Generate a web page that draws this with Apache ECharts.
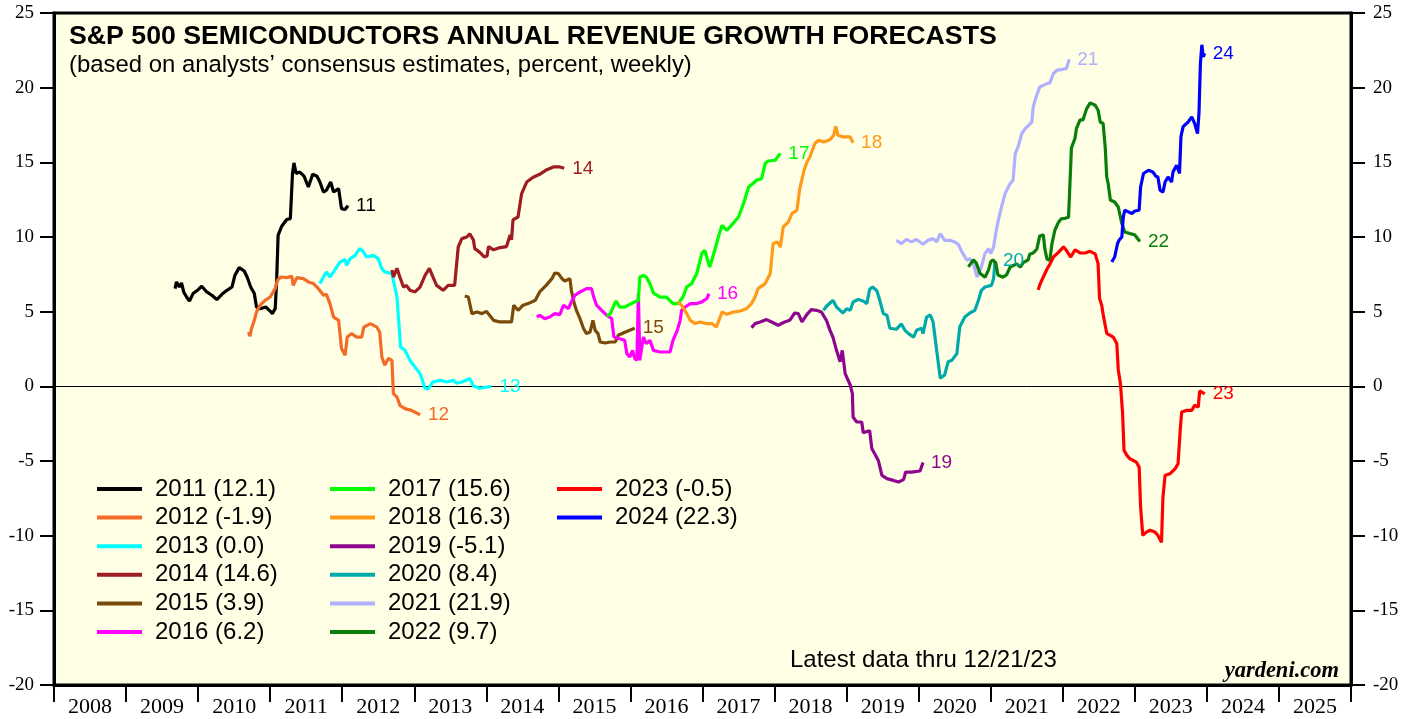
<!DOCTYPE html>
<html lang="en">
<head>
    <meta charset="UTF-8">
    <title>S&P 500 Semiconductors Annual Revenue Growth Forecasts</title>
    <style>
        html, body { margin: 0; padding: 0; background: #fff; }
    </style>
</head>

<script src="https://cdn.jsdelivr.net/npm/echarts@6/dist/echarts.min.js"></script>

<body>
<div id="main" style="height: 719px;width: 1416px"></div>
<script type="text/javascript">
    // year labels under the axis (one per year, between the ticks)
    var years = ['2008', '2009', '2010', '2011', '2012', '2013', '2014', '2015', '2016',
        '2017', '2018', '2019', '2020', '2021', '2022', '2023', '2024', '2025']

    var names = ['2011 (12.1)', '2012 (-1.9)', '2013 (0.0)', '2014 (14.6)', '2015 (3.9)', '2016 (6.2)',
        '2017 (15.6)', '2018 (16.3)', '2019 (-5.1)', '2020 (8.4)', '2021 (21.9)', '2022 (9.7)',
        '2023 (-0.5)', '2024 (22.3)']
    var tags = ['11', '12', '13', '14', '15', '16', '17', '18', '19', '20', '21', '22', '23', '24']

    // weekly forecasts, [year, percent]
    var s2011 = [[2009.68, 6.54], [2009.70, 6.99], [2009.74, 6.65], [2009.77, 6.92], [2009.80, 6.32], [2009.84, 5.98], [2009.88, 5.71], [2009.93, 6.21], [2009.99, 6.43], [2010.05, 6.70], [2010.12, 6.32], [2010.19, 6.10], [2010.26, 5.81], [2010.33, 6.16], [2010.40, 6.43], [2010.47, 6.65], [2010.51, 7.43], [2010.57, 7.95], [2010.64, 7.72], [2010.68, 7.32], [2010.73, 6.65], [2010.78, 6.21], [2010.81, 5.31], [2010.86, 5.20], [2010.94, 5.31], [2011.00, 5.04], [2011.03, 4.87], [2011.07, 5.20], [2011.09, 7.10], [2011.11, 10.11], [2011.16, 10.72], [2011.23, 11.17], [2011.28, 11.23], [2011.31, 14.25], [2011.33, 14.96], [2011.36, 14.25], [2011.41, 14.35], [2011.47, 14.07], [2011.53, 13.35], [2011.59, 14.20], [2011.65, 14.07], [2011.69, 13.68], [2011.74, 13.01], [2011.78, 13.13], [2011.84, 13.68], [2011.88, 13.01], [2011.95, 13.24], [2011.99, 11.90], [2012.04, 11.84], [2012.08, 12.1]]
    var s2012 = [[2010.70, 3.64], [2010.72, 3.35], [2010.74, 3.86], [2010.78, 4.42], [2010.81, 4.98], [2010.86, 5.43], [2010.93, 5.76], [2011.00, 5.98], [2011.07, 6.54], [2011.10, 7.10], [2011.15, 7.32], [2011.23, 7.28], [2011.30, 7.37], [2011.32, 6.76], [2011.37, 7.28], [2011.46, 7.21], [2011.53, 6.99], [2011.60, 6.88], [2011.67, 6.54], [2011.74, 6.10], [2011.78, 6.16], [2011.83, 5.54], [2011.88, 4.64], [2011.95, 4.42], [2011.99, 2.53], [2012.04, 2.08], [2012.07, 3.30], [2012.13, 3.53], [2012.20, 3.30], [2012.27, 3.30], [2012.30, 3.97], [2012.39, 4.20], [2012.48, 3.97], [2012.52, 3.64], [2012.55, 1.96], [2012.59, 1.41], [2012.64, 1.86], [2012.69, 1.74], [2012.71, -0.49], [2012.76, -0.72], [2012.80, -1.27], [2012.87, -1.49], [2012.96, -1.61], [2013.08, -1.9]]
    var s2013 = [[2011.69, 6.88], [2011.74, 7.32], [2011.78, 7.66], [2011.83, 7.32], [2011.88, 7.66], [2011.97, 8.33], [2012.04, 8.49], [2012.06, 8.10], [2012.11, 8.55], [2012.18, 8.77], [2012.24, 9.22], [2012.28, 9.11], [2012.34, 8.66], [2012.43, 8.77], [2012.50, 8.55], [2012.55, 7.88], [2012.59, 7.66], [2012.69, 7.55], [2012.73, 6.65], [2012.76, 5.98], [2012.81, 2.63], [2012.87, 2.41], [2012.94, 1.74], [2013.01, 1.29], [2013.08, 0.85], [2013.15, -0.13], [2013.19, -0.19], [2013.26, 0.29], [2013.36, 0.40], [2013.45, 0.29], [2013.54, 0.40], [2013.59, 0.21], [2013.66, 0.29], [2013.77, 0.52], [2013.82, 0.03], [2013.91, -0.13], [2014.07, 0.0]]
    var s2014 = [[2012.69, 7.79], [2012.71, 7.32], [2012.76, 7.90], [2012.80, 7.32], [2012.85, 6.65], [2012.89, 6.76], [2012.94, 6.43], [2013.01, 6.32], [2013.08, 6.65], [2013.15, 7.43], [2013.21, 7.90], [2013.26, 7.32], [2013.31, 6.76], [2013.40, 6.43], [2013.47, 6.76], [2013.56, 6.76], [2013.61, 9.33], [2013.66, 9.89], [2013.73, 10.0], [2013.77, 10.22], [2013.82, 9.81], [2013.84, 9.22], [2013.91, 8.97], [2013.97, 8.67], [2014.01, 8.73], [2014.03, 9.36], [2014.10, 9.14], [2014.19, 9.29], [2014.28, 9.36], [2014.30, 9.25], [2014.33, 10.14], [2014.35, 9.81], [2014.37, 11.15], [2014.44, 11.34], [2014.49, 12.91], [2014.56, 13.68], [2014.65, 14.0], [2014.74, 14.2], [2014.84, 14.51], [2014.93, 14.69], [2015.02, 14.69], [2015.08, 14.6]]
    var s2015 = [[2013.70, 6.05], [2013.75, 5.98], [2013.80, 4.87], [2013.87, 4.98], [2013.94, 4.87], [2014.00, 5.02], [2014.10, 4.42], [2014.19, 4.31], [2014.35, 4.31], [2014.38, 5.43], [2014.44, 5.09], [2014.51, 5.43], [2014.58, 5.54], [2014.68, 5.76], [2014.74, 6.32], [2014.83, 6.76], [2014.91, 7.21], [2014.95, 7.59], [2015.00, 7.55], [2015.05, 7.21], [2015.09, 7.05], [2015.16, 7.21], [2015.18, 6.43], [2015.22, 5.54], [2015.25, 5.09], [2015.30, 4.53], [2015.35, 3.86], [2015.39, 3.53], [2015.44, 3.64], [2015.48, 4.42], [2015.51, 3.75], [2015.55, 3.53], [2015.58, 2.97], [2015.65, 2.90], [2015.72, 2.97], [2015.79, 2.97], [2015.83, 3.42], [2015.90, 3.57], [2015.99, 3.75], [2016.06, 3.9]]
    var s2016 = [[2014.70, 4.64], [2014.74, 4.76], [2014.81, 4.53], [2014.88, 4.64], [2014.95, 4.87], [2015.02, 4.80], [2015.07, 5.43], [2015.14, 5.20], [2015.18, 5.65], [2015.23, 6.10], [2015.30, 6.32], [2015.39, 6.54], [2015.46, 6.54], [2015.49, 5.98], [2015.53, 5.43], [2015.60, 5.09], [2015.67, 4.76], [2015.74, 4.53], [2015.77, 3.30], [2015.85, 3.19], [2015.92, 3.08], [2015.95, 2.19], [2015.99, 1.96], [2016.03, 2.41], [2016.06, 1.86], [2016.09, 1.74], [2016.11, 6.24], [2016.13, 1.74], [2016.18, 3.30], [2016.22, 2.86], [2016.27, 3.08], [2016.32, 2.41], [2016.41, 2.30], [2016.55, 2.30], [2016.59, 3.08], [2016.65, 3.75], [2016.69, 4.42], [2016.71, 5.09], [2016.76, 5.31], [2016.83, 5.54], [2016.92, 5.54], [2016.99, 5.65], [2017.06, 5.87], [2017.09, 6.2]]
    var s2017 = [[2015.67, 4.69], [2015.72, 4.87], [2015.76, 5.31], [2015.80, 5.71], [2015.85, 5.31], [2015.92, 5.30], [2015.99, 5.49], [2016.06, 5.65], [2016.11, 5.76], [2016.13, 7.32], [2016.18, 7.43], [2016.22, 7.32], [2016.27, 6.88], [2016.32, 6.24], [2016.41, 5.98], [2016.50, 5.97], [2016.59, 5.54], [2016.66, 5.54], [2016.73, 5.98], [2016.78, 6.65], [2016.85, 6.88], [2016.92, 7.55], [2016.99, 8.89], [2017.03, 9.11], [2017.10, 7.99], [2017.17, 9.11], [2017.22, 10.0], [2017.27, 10.78], [2017.34, 10.45], [2017.40, 10.78], [2017.50, 11.34], [2017.57, 12.24], [2017.64, 13.35], [2017.70, 13.58], [2017.75, 13.80], [2017.82, 13.91], [2017.87, 14.92], [2017.91, 15.09], [2018.01, 15.14], [2018.08, 15.6]]
    var s2018 = [[2016.66, 5.65], [2016.71, 5.43], [2016.78, 4.87], [2016.83, 4.42], [2016.90, 4.20], [2016.96, 4.31], [2017.06, 4.20], [2017.13, 4.20], [2017.19, 3.97], [2017.22, 4.31], [2017.27, 4.98], [2017.34, 4.82], [2017.43, 4.98], [2017.52, 5.04], [2017.61, 5.20], [2017.68, 5.54], [2017.73, 5.98], [2017.77, 6.54], [2017.87, 6.88], [2017.94, 7.55], [2017.98, 9.56], [2018.04, 9.67], [2018.08, 9.33], [2018.12, 10.67], [2018.19, 11.0], [2018.24, 11.57], [2018.31, 11.79], [2018.35, 13.24], [2018.41, 14.47], [2018.45, 15.02], [2018.49, 15.36], [2018.56, 16.26], [2018.61, 16.48], [2018.68, 16.36], [2018.77, 16.52], [2018.82, 16.81], [2018.85, 17.41], [2018.88, 16.81], [2018.95, 16.70], [2019.05, 16.70], [2019.09, 16.3]]
    var s2019 = [[2017.68, 3.93], [2017.73, 4.20], [2017.80, 4.31], [2017.89, 4.47], [2017.96, 4.31], [2018.05, 4.09], [2018.14, 4.31], [2018.21, 4.42], [2018.28, 4.91], [2018.33, 4.87], [2018.38, 4.31], [2018.45, 4.82], [2018.51, 5.14], [2018.58, 5.09], [2018.65, 4.98], [2018.72, 4.42], [2018.77, 3.75], [2018.81, 3.30], [2018.86, 2.41], [2018.91, 1.65], [2018.94, 2.41], [2018.98, 0.85], [2019.05, 0.09], [2019.08, -0.49], [2019.09, -2.06], [2019.14, -2.39], [2019.21, -2.39], [2019.23, -3.10], [2019.32, -2.97], [2019.35, -4.17], [2019.39, -4.51], [2019.44, -4.96], [2019.49, -5.96], [2019.56, -6.18], [2019.65, -6.30], [2019.72, -6.41], [2019.79, -6.25], [2019.82, -5.74], [2019.90, -5.74], [2020.02, -5.67], [2020.06, -5.1]]
    var s2020 = [[2018.68, 5.09], [2018.72, 5.36], [2018.77, 5.58], [2018.81, 5.76], [2018.86, 5.31], [2018.91, 5.09], [2018.95, 4.91], [2019.00, 5.20], [2019.05, 5.09], [2019.09, 5.65], [2019.16, 5.81], [2019.23, 5.71], [2019.28, 5.54], [2019.32, 6.50], [2019.36, 6.65], [2019.42, 6.40], [2019.46, 5.76], [2019.51, 4.87], [2019.56, 4.76], [2019.60, 3.89], [2019.69, 3.82], [2019.76, 4.18], [2019.81, 3.75], [2019.86, 3.53], [2019.93, 3.30], [2019.97, 3.75], [2020.04, 3.89], [2020.06, 3.53], [2020.11, 4.64], [2020.16, 4.78], [2020.20, 4.31], [2020.25, 2.41], [2020.30, 0.54], [2020.36, 0.76], [2020.41, 1.65], [2020.46, 1.74], [2020.53, 2.19], [2020.57, 3.97], [2020.64, 4.64], [2020.71, 4.91], [2020.78, 5.09], [2020.83, 5.76], [2020.87, 6.43], [2020.92, 6.65], [2021.01, 6.76], [2021.04, 7.21], [2021.06, 8.4]]
    var s2021 = [[2019.69, 9.78], [2019.76, 9.56], [2019.83, 9.83], [2019.90, 9.67], [2019.97, 9.83], [2020.06, 9.51], [2020.13, 9.78], [2020.20, 9.89], [2020.25, 9.67], [2020.30, 10.23], [2020.36, 9.78], [2020.43, 9.78], [2020.50, 9.67], [2020.55, 9.51], [2020.60, 9.00], [2020.67, 8.44], [2020.71, 8.55], [2020.76, 8.22], [2020.81, 7.32], [2020.87, 7.99], [2020.92, 8.89], [2020.97, 9.22], [2021.00, 8.89], [2021.04, 9.33], [2021.07, 10.23], [2021.10, 11.0], [2021.15, 12.01], [2021.20, 12.91], [2021.27, 13.58], [2021.31, 13.80], [2021.34, 15.59], [2021.38, 16.03], [2021.43, 16.93], [2021.48, 17.26], [2021.57, 17.70], [2021.59, 18.71], [2021.63, 19.38], [2021.68, 20.05], [2021.78, 20.27], [2021.82, 20.32], [2021.87, 20.95], [2021.92, 21.17], [2021.98, 21.21], [2022.05, 21.28], [2022.09, 21.9]]
    var s2022 = [[2020.69, 8.0], [2020.76, 8.47], [2020.80, 8.25], [2020.85, 7.58], [2020.92, 7.31], [2020.97, 7.80], [2021.00, 8.33], [2021.03, 8.47], [2021.07, 8.25], [2021.10, 7.46], [2021.17, 7.31], [2021.22, 7.46], [2021.27, 7.99], [2021.36, 8.20], [2021.41, 7.99], [2021.45, 8.28], [2021.52, 8.47], [2021.54, 8.84], [2021.59, 8.93], [2021.64, 9.18], [2021.68, 10.07], [2021.73, 10.14], [2021.75, 9.24], [2021.78, 8.53], [2021.82, 8.44], [2021.85, 9.56], [2021.89, 10.45], [2021.94, 10.98], [2021.98, 11.22], [2022.03, 11.25], [2022.08, 11.32], [2022.09, 12.46], [2022.10, 13.62], [2022.12, 15.97], [2022.17, 16.61], [2022.19, 17.28], [2022.24, 17.84], [2022.28, 17.84], [2022.33, 18.58], [2022.38, 18.98], [2022.45, 18.82], [2022.49, 18.49], [2022.52, 17.70], [2022.56, 17.60], [2022.59, 15.94], [2022.61, 14.02], [2022.63, 13.58], [2022.66, 12.48], [2022.72, 12.34], [2022.77, 12.01], [2022.82, 10.90], [2022.86, 10.34], [2022.93, 10.23], [2023.00, 10.14], [2023.07, 9.7]]
    var s2023 = [[2021.66, 6.46], [2021.68, 6.79], [2021.73, 7.32], [2021.78, 7.84], [2021.82, 8.17], [2021.87, 8.66], [2021.94, 8.97], [2022.01, 9.34], [2022.05, 9.11], [2022.11, 8.66], [2022.17, 9.14], [2022.24, 8.94], [2022.31, 8.93], [2022.38, 9.04], [2022.45, 8.87], [2022.49, 8.22], [2022.51, 5.89], [2022.54, 5.43], [2022.56, 4.82], [2022.61, 3.55], [2022.63, 3.42], [2022.70, 3.30], [2022.75, 2.86], [2022.77, 1.10], [2022.80, 0.21], [2022.83, -1.80], [2022.85, -4.29], [2022.89, -4.62], [2022.93, -4.84], [2023.02, -5.07], [2023.06, -5.41], [2023.08, -8.08], [2023.11, -9.98], [2023.16, -9.76], [2023.21, -9.64], [2023.28, -9.76], [2023.32, -9.98], [2023.37, -10.45], [2023.39, -7.42], [2023.42, -5.96], [2023.49, -5.85], [2023.56, -5.51], [2023.60, -5.18], [2023.63, -2.92], [2023.65, -1.72], [2023.72, -1.61], [2023.79, -1.61], [2023.83, -1.27], [2023.88, -1.39], [2023.90, -0.3], [2023.97, -0.5]]
    var s2024 = [[2022.68, 8.33], [2022.72, 8.66], [2022.76, 9.56], [2022.78, 9.78], [2022.82, 10.0], [2022.84, 11.34], [2022.86, 11.79], [2022.91, 11.68], [2022.96, 11.57], [2023.00, 11.74], [2023.06, 11.79], [2023.08, 13.35], [2023.12, 14.25], [2023.19, 14.47], [2023.25, 14.36], [2023.29, 14.07], [2023.32, 14.02], [2023.35, 13.13], [2023.39, 13.01], [2023.42, 13.68], [2023.46, 14.02], [2023.51, 13.68], [2023.53, 14.36], [2023.58, 14.80], [2023.62, 14.25], [2023.64, 16.72], [2023.67, 17.39], [2023.74, 17.70], [2023.79, 18.04], [2023.83, 17.60], [2023.87, 16.93], [2023.89, 18.27], [2023.91, 21.61], [2023.93, 22.87], [2023.95, 22.06], [2023.97, 22.3]]

    var allData = [s2011, s2012, s2013, s2014, s2015, s2016, s2017, s2018, s2019, s2020, s2021, s2022, s2023, s2024]

    var colors = ['#000000', '#F26C28', '#00FFFF', '#9E1C22', '#7A4A0A', '#FF00FF', '#00FF00',
        '#FF9A1A', '#8E068E', '#00AAAA', '#B0B0FF', '#0A7D0A', '#FF0000', '#0000FF']

    var sans = 'Liberation Sans, Arial, sans-serif'
    var serif = 'Liberation Serif, Times New Roman, serif'

    function drew() {
        var myChart = echarts.init(document.getElementById("main"))

        var series = allData.map(function (d, i) {
            var s = {
                name: names[i],
                type: 'line',
                data: d,
                xAxisIndex: 0,
                yAxisIndex: 0,
                symbol: 'none',
                showSymbol: false,
                color: colors[i],
                lineStyle: {width: 3.2, color: colors[i]},
                endLabel: {
                    show: true,
                    formatter: tags[i],
                    color: colors[i],
                    fontFamily: sans,
                    fontSize: 19,
                    distance: 8
                },
                z: 3
            }
            if (i === 0) {
                // the zero line
                s.markLine = {
                    silent: true,
                    symbol: ['none', 'none'],
                    label: {show: false},
                    lineStyle: {color: '#000', width: 1, type: 'solid'},
                    data: [{yAxis: 0}],
                    z: 1
                }
            }
            return s
        })

        function legendCol(list, left) {
            return {
                data: list,
                orient: 'vertical',
                left: left,
                top: 472,
                icon: 'rect',
                itemWidth: 45,
                itemHeight: 4,
                itemGap: 4.6,
                selectedMode: false,
                textStyle: {
                    color: '#000',
                    fontFamily: sans,
                    fontSize: 24,
                    lineHeight: 22,
                    padding: [0, 0, 0, 8]
                }
            }
        }

        var yAxisBase = function (pos, margin) {
            return {
                type: 'value',
                position: pos,
                min: -20,
                max: 25,
                interval: 5,
                splitLine: {show: false},
                axisLine: {show: true, lineStyle: {color: '#000', width: 3}},
                axisTick: {show: true, length: 14, lineStyle: {color: '#000', width: 2}},
                axisLabel: {color: '#000', fontFamily: serif, fontSize: 19, margin: margin}
            }
        }

        var option = {
            animation: false,
            backgroundColor: '#fff',
            title: [{
                text: 'S&P 500 SEMICONDUCTORS ANNUAL REVENUE GROWTH FORECASTS',
                left: 64,
                top: 18,
                textStyle: {color: '#000', fontFamily: sans, fontWeight: 'bold', fontSize: 26.7}
            }, {
                text: '(based on analysts’ consensus estimates, percent, weekly)',
                left: 64,
                top: 48,
                textStyle: {color: '#000', fontFamily: sans, fontWeight: 'normal', fontSize: 23.9}
            }, {
                text: 'Latest data thru 12/21/23',
                left: 785,
                top: 643,
                textStyle: {color: '#000', fontFamily: sans, fontWeight: 'normal', fontSize: 24}
            }, {
                text: 'yardeni.com',
                right: 72,
                top: 655,
                textStyle: {color: '#000', fontFamily: serif, fontWeight: 'bold', fontStyle: 'italic', fontSize: 22.5}
            }],
            legend: [
                legendCol(names.slice(0, 6), 92),
                legendCol(names.slice(6, 12), 325),
                legendCol(names.slice(12), 552)
            ],
            grid: {
                left: 54,
                right: 65,
                top: 13,
                bottom: 34,
                show: true,
                backgroundColor: '#FFFFE5',
                borderColor: '#000',
                borderWidth: 3,
                outerBoundsMode: 'none'
            },
            xAxis: [{
                type: 'value',
                min: 2008,
                max: 2026,
                show: false
            }, {
                type: 'category',
                data: years,
                position: 'bottom',
                boundaryGap: true,
                axisLine: {show: true, onZero: false, lineStyle: {color: '#000', width: 3}},
                axisTick: {show: true, length: 17, lineStyle: {color: '#000', width: 2}},
                axisLabel: {color: '#000', fontFamily: serif, fontSize: 22, margin: 11, interval: 0},
                splitLine: {show: false}
            }],
            yAxis: [yAxisBase('left', 20), yAxisBase('right', 22)],
            series: series
        }
        myChart.setOption(option)
    }

    drew()
</script>

</body>
</html>
